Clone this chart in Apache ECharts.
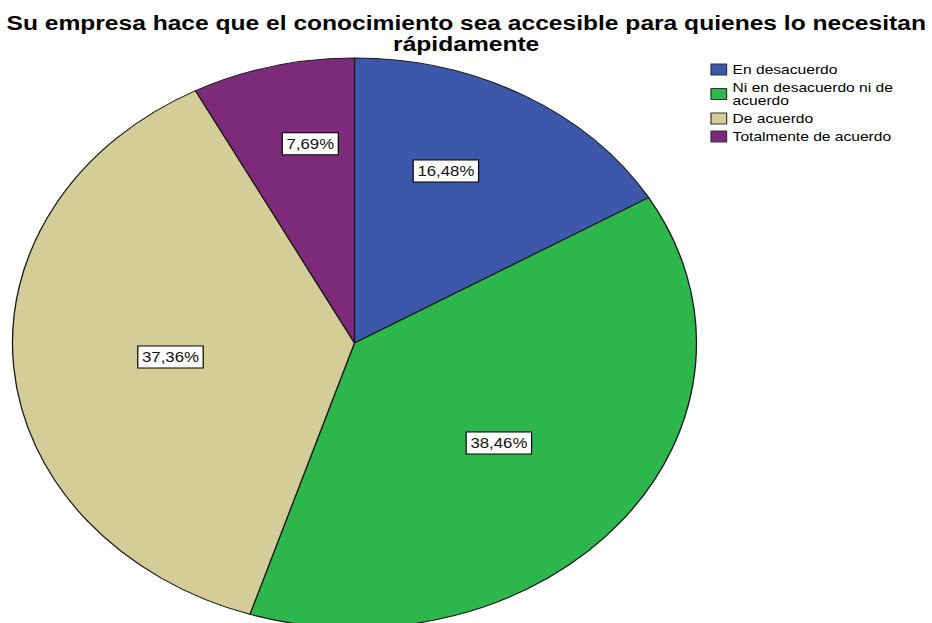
<!DOCTYPE html>
<html>
<head>
<meta charset="utf-8">
<script src="https://cdn.jsdelivr.net/npm/echarts@6/dist/echarts.min.js"></script>
<style>
  html, body { margin: 0; padding: 0; background: #fff; overflow: hidden; }
  /* The chart is laid out in a narrower box and widened horizontally,
     which turns the round pie into the wide oval of the export. */
  #chart {
    width: 777px; height: 623px;
    transform: scaleX(1.2); transform-origin: 0 0;
  }
</style>
</head>
<body>
<div id="chart"></div>
<script>
// Respuestas a la afirmación (porcentaje de encuestados)
const titleText = 'Su empresa hace que el conocimiento sea accesible para quienes lo necesitan\nrápidamente';
const categories = ['En desacuerdo', 'Ni en desacuerdo ni de acuerdo', 'De acuerdo', 'Totalmente de acuerdo'];
const shares = [16.48, 38.46, 37.36, 7.69];
const colors = ['#3d58ab', '#2db64b', '#d4cd98', '#7e2a7a'];

const FONT = '"Liberation Sans", Arial, Helvetica, sans-serif';

// Pie layout (in the unstretched box)
const PIE_CX = 295.4, PIE_CY = 343, PIE_R = 285;

const chart = echarts.init(document.getElementById('chart'), null, { renderer: 'svg' });

const total = shares.reduce((a, b) => a + b, 0);
const startFrac = [];
let acc = 0;
shares.forEach(v => { startFrac.push(acc / total); acc += v; });

function fmt(v) { return v.toFixed(2).replace('.', ',') + '%'; }

// Value boxes sit near the centroid of each slice
function renderLabel(params, api) {
  const i = params.dataIndex;
  const half = (api.value(0) / total) * Math.PI;
  const mid = startFrac[i] * Math.PI * 2 + half;
  const centroid = (2 / 3) * Math.sin(half) / half;
  const fx = 0.54;
  const fy = centroid * 1.09;
  return {
    type: 'text',
    x: PIE_CX + fx * PIE_R * Math.sin(mid),
    y: PIE_CY - fy * PIE_R * Math.cos(mid),
    z2: 10,
    style: {
      text: fmt(api.value(0)),
      fill: '#111',
      font: '14px ' + FONT,
      align: 'center',
      verticalAlign: 'middle',
      backgroundColor: '#fff',
      borderColor: '#000',
      borderWidth: 1,
      padding: [4, 3, 3, 3]
    }
  };
}

chart.setOption({
  backgroundColor: '#fff',
  animation: false,
  title: {
    text: titleText,
    left: 'center',
    top: 8,
    textStyle: {
      fontFamily: FONT,
      fontWeight: 'bold',
      fontSize: 20.5,
      lineHeight: 21,
      color: '#000'
    }
  },
  legend: {
    orient: 'vertical',
    left: 587,
    top: 58,
    icon: 'rect',
    itemWidth: 13,
    itemHeight: 11,
    itemGap: 5,
    selectedMode: false,
    itemStyle: { borderColor: '#333', borderWidth: 1 },
    textStyle: {
      fontFamily: FONT,
      fontSize: 13,
      color: '#000',
      lineHeight: 13,
      width: 150,
      overflow: 'break'
    },
    data: categories
  },
  series: [
    {
      type: 'pie',
      name: 'Respuestas',
      center: [PIE_CX, PIE_CY],
      radius: PIE_R,
      startAngle: 90,
      clockwise: true,
      silent: true,
      label: { show: false },
      labelLine: { show: false },
      emphasis: { disabled: true },
      itemStyle: { borderColor: '#1a1a1a', borderWidth: 1.1 },
      data: categories.map((name, i) => ({
        name: name,
        value: shares[i],
        itemStyle: { color: colors[i] }
      }))
    },
    {
      type: 'custom',
      name: 'Etiquetas',
      coordinateSystem: 'none',
      silent: true,
      data: shares.map(v => [v]),
      renderItem: renderLabel
    }
  ]
});
</script>
</body>
</html>
